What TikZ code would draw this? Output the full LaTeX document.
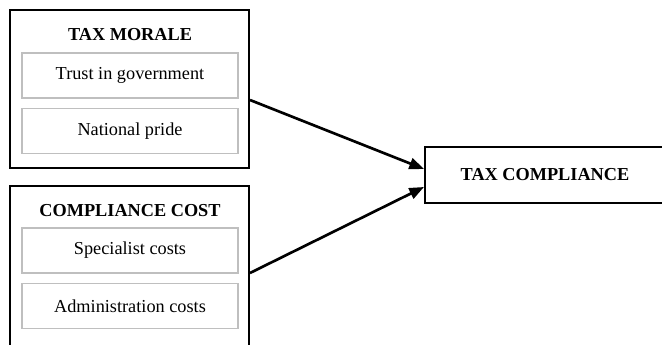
\documentclass[tikz,border=0pt]{standalone}
\usepackage{fontspec}
\setmainfont{Liberation Serif}
\usetikzlibrary{calc, arrows.meta, positioning}

\begin{document}
\begin{tikzpicture}[x=0.75pt, y=-0.75pt,
  outerbox/.style={draw, line width=1.5pt, minimum width=179.25pt},
  innerbox/.style={draw=black!25, line width=1.2pt, minimum width=162pt,
    minimum height=33.75pt, font=\fontsize{13.7}{15}\selectfont},
  titletext/.style={font=\bfseries\fontsize{13.7}{15}\selectfont},
  link/.style={line width=2pt, -{Triangle[length=11pt, width=8.5pt]}}]
  \useasboundingbox (0,0) rectangle (662,345);
  \clip (0,0) rectangle (662,345);
  % left blocks
  \node[outerbox, minimum height=118.5pt] (morale) at (129.5,89) {};
  \node[outerbox, minimum height=130.5pt] (cost) at (129.5,273) {};
  \node[titletext] (moraletitle) at (130,35) {TAX MORALE};
  \node[innerbox] (trust) at (130,75.5) {Trust in government};
  \node[innerbox] (pride) at (130,131) {National pride};
  \node[titletext] (costtitle) at (130,211) {COMPLIANCE COST};
  \node[innerbox] (special) at (130,250.5) {Specialist costs};
  \node[innerbox] (admin) at (130,306) {Administration costs};
  % outcome
  \node[draw, line width=1.5pt, minimum width=180pt, minimum height=42pt,
    titletext] (comply) at (545,175) {TAX COMPLIANCE};
  \draw[link] ($(morale.east)+(0,11)$) -- ($(comply.west)+(0,-6)$);
  \draw[link] (cost.east) -- ($(comply.west)+(0,12)$);
\end{tikzpicture}
\end{document}
